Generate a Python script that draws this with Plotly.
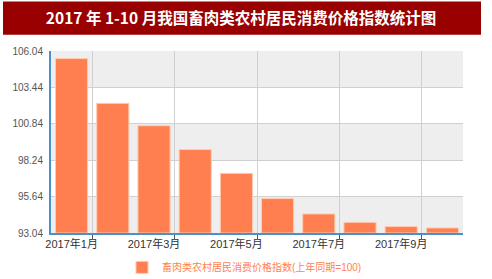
import plotly.graph_objects as go

months = ["2017年1月", "2017年2月", "2017年3月", "2017年4月", "2017年5月",
          "2017年6月", "2017年7月", "2017年8月", "2017年9月", "2017年10月"]
values = [105.5, 102.3, 100.7, 99.0, 97.3, 95.5, 94.4, 93.8, 93.5, 93.4]
y_ticks = [93.04, 95.64, 98.24, 100.84, 103.44, 106.04]
series_name = "畜肉类农村居民消费价格指数(上年同期=100)"
title_text = "2017 年 1-10 月我国畜肉类农村居民消费价格指数统计图"

x_idx = list(range(len(months)))
ymin, ymax = y_ticks[0], y_ticks[-1]

font_fam = "Liberation Sans, Noto Sans CJK SC, sans-serif"

fig = go.Figure()
fig.add_trace(go.Bar(
    x=x_idx, y=[v - ymin for v in values], base=ymin,
    name=series_name,
    marker=dict(color="#FF7F50", line=dict(color="#FFCBB0", width=1)),
    showlegend=True,
))

shapes = []
# alternating horizontal bands
for i in range(len(y_ticks) - 1):
    if (len(y_ticks) - 2 - i) % 2 == 0:
        shapes.append(dict(type="rect", xref="paper", yref="y", x0=0, x1=1,
                           y0=y_ticks[i], y1=y_ticks[i + 1],
                           fillcolor="#EEEEEE", line=dict(width=0), layer="below"))
# title banner
shapes.append(dict(type="rect", xref="paper", yref="paper",
                   x0=(3 - 51) / 412, x1=(481 - 51) / 412,
                   y0=(232.7 - 35) / 181.4, y1=(232.7 - 2) / 181.4,
                   fillcolor="#990000", line=dict(width=0), layer="below"))

fig.update_layout(
    width=492, height=279,
    margin=dict(l=51, r=29, t=51.3, b=46.3, autoexpand=False),
    paper_bgcolor="white", plot_bgcolor="white",
    bargap=0.22,
    shapes=shapes,
    title=dict(text=title_text, x=241 / 492, xanchor="center",
               y=1 - 18.5 / 279, yanchor="middle", yref="container",
               font=dict(family="Noto Sans CJK SC", size=15.5, color="white", weight="bold")),
    xaxis=dict(
        range=[-0.5, len(months) - 0.5],
        tickmode="array", tickvals=x_idx[::2], ticktext=months[::2],
        tickangle=0, automargin=False,
        ticks="", showgrid=False, zeroline=False,
        showline=True, linecolor="#4A90CF", linewidth=2,
        tickfont=dict(family=font_fam, size=11, color="#333333"),
        minor=dict(tickmode="linear", tick0=0.5, dtick=2, ticks="outside",
                   ticklen=4, tickcolor="#555555", showgrid=True,
                   gridcolor="#D0D0D0", gridwidth=1),
        fixedrange=True,
    ),
    yaxis=dict(
        range=[ymin, ymax],
        tickmode="array", tickvals=y_ticks, ticktext=[f"{t:.2f}" for t in y_ticks],
        showgrid=True, gridcolor="#D0D0D0", gridwidth=1, zeroline=False,
        showline=True, linecolor="#4A90CF", linewidth=2,
        ticks="", ticklabelstandoff=4, automargin=False,
        tickfont=dict(family=font_fam, size=10, color="#555555"),
        fixedrange=True,
    ),
    legend=dict(orientation="h", x=(122 - 51) / 412, xanchor="left",
                y=-0.189, yanchor="middle",
                font=dict(family=font_fam, size=10, color="#FF7F50")),
)

fig.write_html("out.html", config={"displayModeBar": False})
